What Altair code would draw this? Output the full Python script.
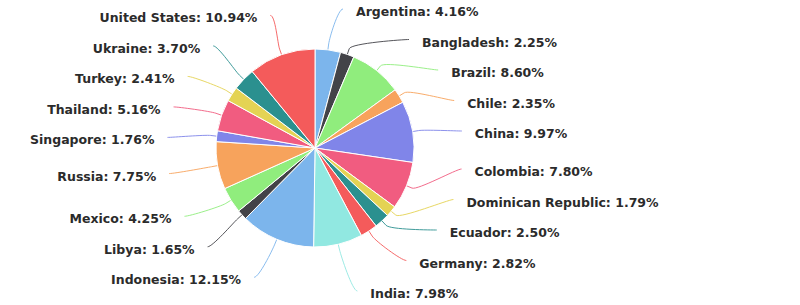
import math
import altair as alt
import pandas as pd

# ---- data ----
countries = ["Argentina", "Bangladesh", "Brazil", "Chile", "China", "Colombia",
             "Dominican Republic", "Ecuador", "Germany", "India", "Indonesia",
             "Libya", "Mexico", "Russia", "Singapore", "Thailand", "Turkey",
             "Ukraine", "United States"]
shares = [4.16, 2.25, 8.60, 2.35, 9.97, 7.80, 1.79, 2.50, 2.82, 7.98, 12.15,
          1.65, 4.25, 7.75, 1.76, 5.16, 2.41, 3.70, 10.94]
palette = ["#7cb5ec", "#434348", "#90ed7d", "#f7a35c", "#8085e9",
           "#f15c80", "#e4d354", "#2b908f", "#f45b5b", "#91e8e1"]
colors = [palette[i % len(palette)] for i in range(len(countries))]

# ---- layout settings ----
W, H = 800, 305
CX, CY, RADIUS = 315, 148, 99
LABEL_R = 138      # radius of the label ring
LABEL_DY = 4       # label ring centre offset
PAD = 23           # horizontal padding of label text from the ring
SLOT = 30.5        # vertical slot per label
TOP, BOTTOM = 12, 294

total = sum(shares)
mids = []
acc = 0.0
for s in shares:
    mids.append((acc + s / 2) / total * 2 * math.pi)
    acc += s

ycenter = CY + LABEL_DY


def distribute(items):
    """items: list of (index, target). returns dict index->y (Highcharts-like)."""
    items = sorted(items, key=lambda t: t[1])
    clusters = [[it] for it in items]

    def place(cl):
        n = len(cl)
        mean = sum(t for _, t in cl) / n
        first = mean - (n - 1) * SLOT / 2
        first = max(first, TOP)
        last = first + (n - 1) * SLOT
        if last > BOTTOM:
            first -= last - BOTTOM
        return first, first + (n - 1) * SLOT

    changed = True
    while changed:
        changed = False
        for i in range(len(clusters) - 1):
            _, last_a = place(clusters[i])
            first_b, _ = place(clusters[i + 1])
            if last_a + SLOT > first_b + 1e-9:
                clusters[i] = clusters[i] + clusters[i + 1]
                del clusters[i + 1]
                changed = True
                break
    out = {}
    for cl in clusters:
        first, _ = place(cl)
        for k, (idx, _) in enumerate(cl):
            out[idx] = first + k * SLOT
    return out


natural = [ycenter - LABEL_R * math.cos(a) for a in mids]
right = [(i, natural[i]) for i, a in enumerate(mids) if a < math.pi]
left = [(i, natural[i]) for i, a in enumerate(mids) if a >= math.pi]
ypos = {}
ypos.update(distribute(right))
ypos.update(distribute(left))

label_rows = []
line_rows = []
for i, (c, s, a) in enumerate(zip(countries, shares, mids)):
    side = 1 if a < math.pi else -1
    ty = ypos[i]
    yx = natural[i] if (abs(ty - TOP) < 1e-6 or abs(ty - BOTTOM) < 1e-6) else ty
    dy = yx - ycenter
    off = PAD + math.sqrt(max(0.0, LABEL_R ** 2 - dy ** 2))
    tx = CX + side * off
    label_rows.append({"country": c, "label": f"{c}: {s:.2f}%", "x": tx, "y": ty,
                       "side": "right" if side > 0 else "left"})
    # connector: cubic bezier from label anchor to break point, then line to edge
    ax, ay = tx - side * 13, ty - 3
    c1x, c1y = ax - side * 5, ay
    sa, ca = math.sin(a), math.cos(a)
    bx, by = CX + sa * (RADIUS + 6), CY - ca * (RADIUS + 6)
    c2x, c2y = CX + sa * (RADIUS + 12), CY - ca * (RADIUS + 12)
    ex, ey = CX + sa * RADIUS, CY - ca * RADIUS
    n = 16
    step = 0
    for k in range(n + 1):
        t = k / n
        u = 1 - t
        px = u ** 3 * ax + 3 * u * u * t * c1x + 3 * u * t * t * c2x + t ** 3 * bx
        py = u ** 3 * ay + 3 * u * u * t * c1y + 3 * u * t * t * c2y + t ** 3 * by
        line_rows.append({"country": c, "step": step, "x": px, "y": py})
        step += 1
    line_rows.append({"country": c, "step": step, "x": ex, "y": ey})

pie_df = pd.DataFrame({"country": countries, "share": shares, "idx": list(range(len(countries)))})
lab_df = pd.DataFrame(label_rows)
con_df = pd.DataFrame(line_rows)

xs = alt.Scale(domain=[0, W], nice=False, zero=False)
ys = alt.Scale(domain=[0, H], nice=False, zero=False, reverse=True)
cscale = alt.Scale(domain=countries, range=colors)

pie = alt.Chart(pie_df).mark_arc(outerRadius=RADIUS, stroke="white", strokeWidth=1).encode(
    theta=alt.Theta("share:Q", stack=True),
    color=alt.Color("country:N", scale=cscale, legend=None),
    order=alt.Order("idx:Q"),
    x=alt.value(CX),
    y=alt.value(CY),
)

conn = alt.Chart(con_df).mark_line(strokeWidth=1, opacity=0.9).encode(
    x=alt.X("x:Q", scale=xs, axis=None),
    y=alt.Y("y:Q", scale=ys, axis=None),
    detail="country:N",
    color=alt.Color("country:N", scale=cscale, legend=None),
    order="step:Q",
)

text_style = dict(font="DejaVu Sans", fontSize=12.5, fontWeight="bold", color="#2b2b2b",
                  baseline="middle")
txt_r = alt.Chart(lab_df).transform_filter(alt.datum.side == "right").mark_text(
    align="left", **text_style).encode(
    x=alt.X("x:Q", scale=xs, axis=None),
    y=alt.Y("y:Q", scale=ys, axis=None),
    text="label:N",
)
txt_l = alt.Chart(lab_df).transform_filter(alt.datum.side == "left").mark_text(
    align="right", **text_style).encode(
    x=alt.X("x:Q", scale=xs, axis=None),
    y=alt.Y("y:Q", scale=ys, axis=None),
    text="label:N",
)

chart = alt.layer(conn, pie, txt_r, txt_l).properties(
    width=W, height=H, autosize=alt.AutoSizeParams(type="none"), padding=0,
    background="white",
).configure_view(stroke=None)

chart.save("out.html", embed_options={"renderer": "svg", "actions": False})
